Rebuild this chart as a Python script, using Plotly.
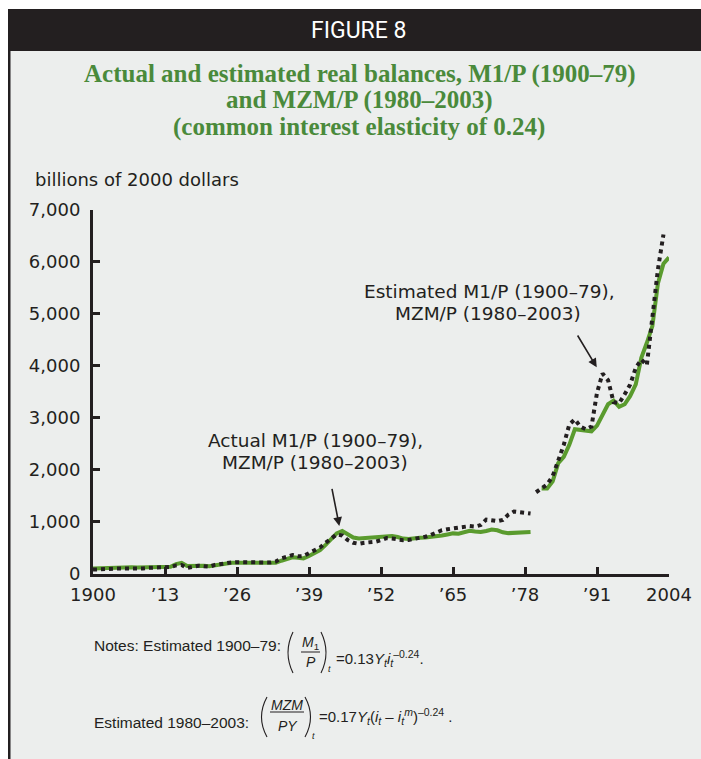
import plotly.graph_objects as go

# ---- data (billions of 2000 dollars) ----
years_m1 = list(range(1900, 1980))
actual_m1 = [
    105, 110, 115, 120, 120, 125, 128, 132, 125, 130,
    135, 138, 140, 135, 140, 190, 215, 155, 160, 170,
    160, 150, 170, 185, 200, 215, 218, 218, 220, 220,
    218, 215, 210, 215, 255, 285, 320, 310, 300, 345,
    400, 460, 560, 680, 780, 825, 760, 700, 680, 690,
    700, 705, 715, 725, 730, 710, 680, 670, 690, 695,
    700, 710, 725, 740, 760, 780, 775, 800, 830, 815,
    805, 825, 855, 840, 800, 785, 790, 800, 810, 805,
]
estimated_m1 = [
    85, 92, 98, 102, 105, 108, 105, 100, 95, 108,
    118, 122, 128, 130, 135, 165, 172, 115, 130, 160,
    150, 140, 175, 195, 210, 222, 228, 228, 230, 230,
    228, 225, 220, 240, 300, 330, 365, 340, 345, 400,
    450, 510, 600, 690, 760, 740, 650, 600, 580, 600,
    610, 620, 650, 690, 680, 665, 650, 655, 675, 690,
    715, 750, 800, 840, 860, 875, 890, 905, 920, 910,
    940, 1045, 1030, 1015, 1040, 1140, 1200, 1190, 1170, 1160,
]

years_mzm_actual = list(range(1981, 2005))
actual_mzm = [
    1640, 1640, 1780, 2130, 2250, 2480, 2780, 2770, 2750, 2740,
    2850, 3060, 3260, 3330, 3210, 3260, 3420, 3640, 4150, 4440,
    4760, 5580, 5960, 6080,
]
years_mzm_est = list(range(1980, 2004))
estimated_mzm = [
    1570, 1640, 1720, 1880, 2160, 2480, 2870, 2970, 2830, 2780,
    2830, 3480, 3850, 3720, 3300, 3280, 3450, 3640, 3960, 4120,
    4010, 4950, 5850, 6520,
]

x_tick_vals = [1900, 1913, 1926, 1939, 1952, 1965, 1978, 1991, 2004]
x_tick_text = ["1900", "’13", "’26", "’39", "’52", "’65", "’78", "’91", "2004"]
y_tick_vals = [0, 1000, 2000, 3000, 4000, 5000, 6000, 7000]

# ---- page geometry helpers (pixels -> paper fractions) ----
W, H = 701, 759


def fx(x):
    return x / W


def fy(y):
    return 1 - y / H


INK = "#231f20"
GREEN = "#5a9b2e"
TITLE_GREEN = "#4a8a3b"
BG = "#eceeed"
SANS = "DejaVu Sans"
NOTE = "Liberation Sans"

fig = go.Figure()

# actual series (solid green), two eras
fig.add_trace(go.Scatter(x=years_m1, y=actual_m1, mode="lines",
                         line=dict(color=GREEN, width=4), hoverinfo="skip"))
fig.add_trace(go.Scatter(x=years_mzm_actual, y=actual_mzm, mode="lines",
                         line=dict(color=GREEN, width=4), hoverinfo="skip"))
# estimated series (black dots), two eras
fig.add_trace(go.Scatter(x=years_m1, y=estimated_m1, mode="lines",
                         line=dict(color=INK, width=4, dash="4px,4px"), hoverinfo="skip"))
fig.add_trace(go.Scatter(x=years_mzm_est, y=estimated_mzm, mode="lines",
                         line=dict(color=INK, width=4, dash="4px,4px"), hoverinfo="skip"))

shapes = [
    # header bar and frame
    dict(type="rect", xref="paper", yref="paper", x0=fx(8), x1=1, y0=0, y1=fy(9),
         fillcolor=INK, line=dict(width=0), layer="below"),
    dict(type="rect", xref="paper", yref="paper", x0=fx(10.5), x1=1, y0=0, y1=fy(51),
         fillcolor=BG, line=dict(width=0), layer="below"),
]


def paren(x_end, x_mid, y_top, y_bot):
    ym = (y_top + y_bot) / 2
    return dict(type="path", xref="paper", yref="paper",
                path=f"M {fx(x_end)},{fy(y_top)} Q {fx(x_mid)},{fy(ym)} {fx(x_end)},{fy(y_bot)}",
                line=dict(color=INK, width=1.1))


def hline(x0, x1, y):
    return dict(type="line", xref="paper", yref="paper", x0=fx(x0), x1=fx(x1),
                y0=fy(y), y1=fy(y), line=dict(color=INK, width=1))


# notes formulas: parentheses and fraction bars
shapes += [
    paren(293, 283, 632, 673), paren(321, 331, 632, 673), hline(301, 320, 652),
    paren(267, 256, 697, 737), paren(305, 316, 697, 737), hline(270, 304, 712),
]

ann = []


def text(x, y, s, size, color=INK, family=SANS, xanchor="center"):
    ann.append(dict(xref="paper", yref="paper", x=fx(x), y=fy(y), text=s, showarrow=False,
                    xanchor=xanchor, yanchor="middle",
                    font=dict(family=family, size=size, color=color)))


text(358, 31, "FIGURE 8", 23, color="white", family="Liberation Sans Narrow, Roboto")
text(360, 74, "<b>Actual and estimated real balances, M1/P (1900–79)</b>", 25,
     color=TITLE_GREEN, family="Liberation Serif")
text(359, 100, "<b>and MZM/P (1980–2003)</b>", 25, color=TITLE_GREEN,
     family="Liberation Serif")
text(359, 127, "<b>(common interest elasticity of 0.24)</b>", 25, color=TITLE_GREEN,
     family="Liberation Serif")
text(33, 180, "billions of 2000 dollars", 18, xanchor="left")

text(315, 440, "Actual M1/P (1900–79),", 18.5)
text(315, 462, "MZM/P (1980–2003)", 18.5)
text(490, 291, "Estimated M1/P (1900–79),", 18.5)
text(488, 313, "MZM/P (1980–2003)", 18.5)

# notes
text(92, 645, "Notes: Estimated 1900–79:", 15.5, family=NOTE, xanchor="left")
text(310, 643, "<i>M</i><sub>1</sub>", 14, family=NOTE)
text(311, 662, "<i>P</i>", 14, family=NOTE)
text(329, 669, "<i>t</i>", 9, family=NOTE)
text(334, 658, "=0.13<i>Y<sub>t</sub>i<sub>t</sub></i><sup>–0.24</sup>.", 15, family=NOTE,
     xanchor="left")

text(92, 722, "Estimated 1980–2003:", 15.5, family=NOTE, xanchor="left")
text(287, 705, "<i>MZM</i>", 14, family=NOTE)
text(288, 726, "<i>PY</i>", 14, family=NOTE)
text(313, 736, "<i>t</i>", 9, family=NOTE)
text(317, 716, "=0.17<i>Y<sub>t</sub></i>(<i>i<sub>t</sub></i> – <i>i<sub>t</sub><sup>m</sup></i>)"
     "<sup>–0.24</sup> .", 15, family=NOTE, xanchor="left")

# pointer arrows to the two series
ann.append(dict(x=1944.47, y=922, xref="x", yref="y", ax=-7.6, ay=-38.7, text="",
                showarrow=True, arrowhead=2, arrowsize=1.1, arrowwidth=1.6,
                arrowcolor=INK, standoff=0))
ann.append(dict(x=1990.95, y=3969, xref="x", yref="y", ax=-20, ay=-33.3, text="",
                showarrow=True, arrowhead=2, arrowsize=1.1, arrowwidth=1.6,
                arrowcolor=INK, standoff=0))

fig.update_layout(
    template="none",
    width=W, height=H,
    margin=dict(l=0, r=0, t=0, b=0, pad=0, autoexpand=False),
    paper_bgcolor="white",
    plot_bgcolor="rgba(0,0,0,0)",
    showlegend=False,
    shapes=shapes,
    annotations=ann,
    xaxis=dict(
        domain=[fx(93), fx(669)], range=[1900, 2004], automargin=False,
        tickmode="array", tickvals=x_tick_vals, ticktext=x_tick_text,
        showline=True, linecolor=INK, linewidth=3,
        ticks="inside", ticklen=7, tickwidth=3, tickcolor=INK,
        showgrid=False, zeroline=False, ticklabelstandoff=2,
        tickfont=dict(family=SANS, size=18, color=INK),
    ),
    yaxis=dict(
        domain=[fy(574), fy(209.5)], range=[0, 7000], automargin=False,
        tickmode="array", tickvals=y_tick_vals, tickformat=",d",
        showline=True, linecolor=INK, linewidth=3,
        ticks="inside", ticklen=7, tickwidth=3, tickcolor=INK,
        showgrid=False, zeroline=False, ticklabelstandoff=6,
        tickfont=dict(family=SANS, size=18, color=INK),
    ),
)

fig.write_html("out.html")
